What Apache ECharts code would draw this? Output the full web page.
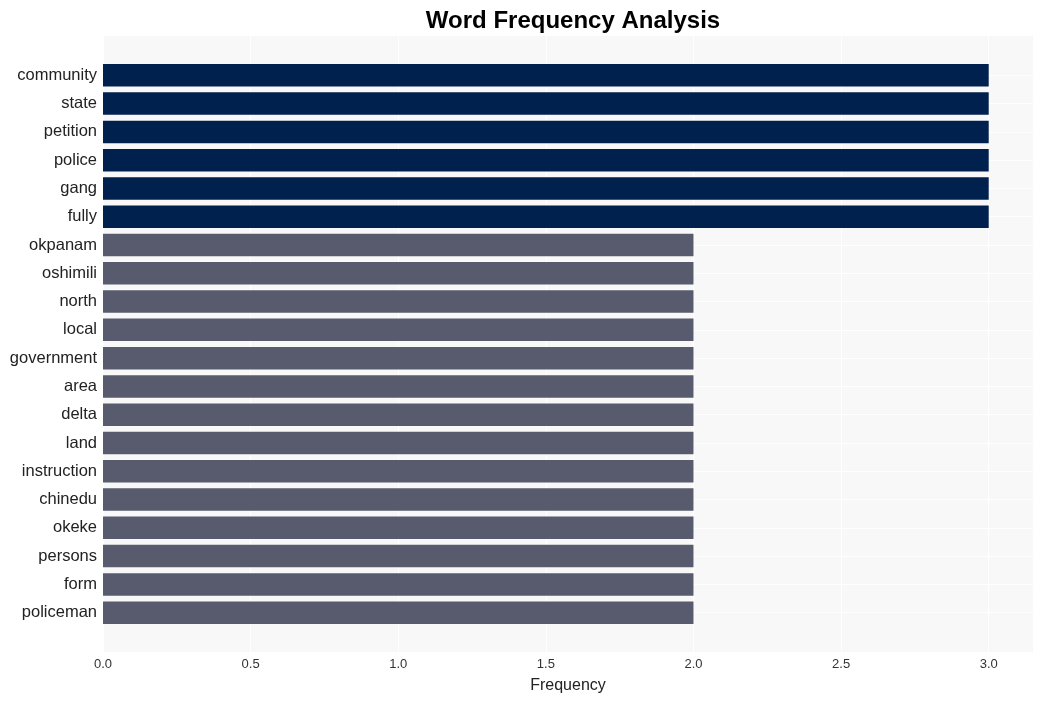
<!DOCTYPE html>
<html>
<head>
<meta charset="utf-8">
<script src="https://cdn.jsdelivr.net/npm/echarts@6/dist/echarts.min.js"></script>
<style>html,body{margin:0;padding:0;background:#fff}#c{width:1042px;height:701px}</style>
</head>
<body>
<div id="c"></div>
<script>
const categories = ["community","state","petition","police","gang","fully","okpanam","oshimili","north","local","government","area","delta","land","instruction","chinedu","okeke","persons","form","policeman"];
const values = [3,3,3,3,3,3,2,2,2,2,2,2,2,2,2,2,2,2,2,2];
const xTicks = [0, 0.5, 1, 1.5, 2, 2.5, 3];
const topColor = "#00204e";
const restColor = "#575b6d";

const chart = echarts.init(document.getElementById('c'));
const plotLeft = 103, plotRight = 1042 - 1033, plotTop = 36, plotBottom = 701 - 652;
const band = (652 - 36) / 21.78;
const innerTop = plotTop + 1.39 * band;
const innerBottom = plotBottom + 1.39 * band;
const xMax = 3.15;

chart.setOption({
  animation: false,
  title: {
    text: "Word Frequency Analysis",
    left: (plotLeft + 1033) / 2, textAlign: 'center', top: 4,
    textStyle: {fontFamily: 'Liberation Sans, Arial', fontWeight: 'bold', fontSize: 24, color: '#000'}
  },
  grid: [
    {left: plotLeft, right: plotRight, top: plotTop, bottom: plotBottom, show: true, backgroundColor: '#f8f8f8', borderWidth: 0},
    {left: plotLeft, right: plotRight, top: innerTop, bottom: innerBottom, show: false}
  ],
  xAxis: [
    {gridIndex: 0, type: 'value', min: 0, max: xMax, interval: 0.5,
     axisLine: {show: false}, axisTick: {show: false},
     axisLabel: {fontFamily: 'Liberation Sans, Arial', fontSize: 13, color: '#333', margin: 6,
       formatter: v => xTicks.some(t => Math.abs(t - v) < 1e-9) ? v.toFixed(1) : ''},
     splitLine: {show: true, lineStyle: {color: '#ffffff', width: 1}},
     name: 'Frequency', nameLocation: 'middle', nameGap: 26,
     nameTextStyle: {fontFamily: 'Liberation Sans, Arial', fontSize: 16, color: '#222'}},
    {gridIndex: 1, type: 'value', min: 0, max: xMax, show: false, splitLine: {show: false}}
  ],
  yAxis: [
    {gridIndex: 0, type: 'value', show: false, splitLine: {show: false}},
    {gridIndex: 1, type: 'category', data: categories, inverse: true, boundaryGap: false,
     axisLine: {show: false}, axisTick: {show: false},
     axisLabel: {fontFamily: 'Liberation Sans, Arial', fontSize: 16.5, color: '#222', margin: 6, interval: 0,
       padding: [5, 0, 0, 0]},
     splitLine: {show: true, interval: 0, lineStyle: {color: '#ffffff', width: 1}}}
  ],
  series: [{
    type: 'bar', xAxisIndex: 1, yAxisIndex: 1, clip: false,
    barWidth: 22.5,
    data: values.map((v, i) => ({value: v, itemStyle: {color: i < 6 ? topColor : restColor}}))
  }]
});
</script>
</body>
</html>
